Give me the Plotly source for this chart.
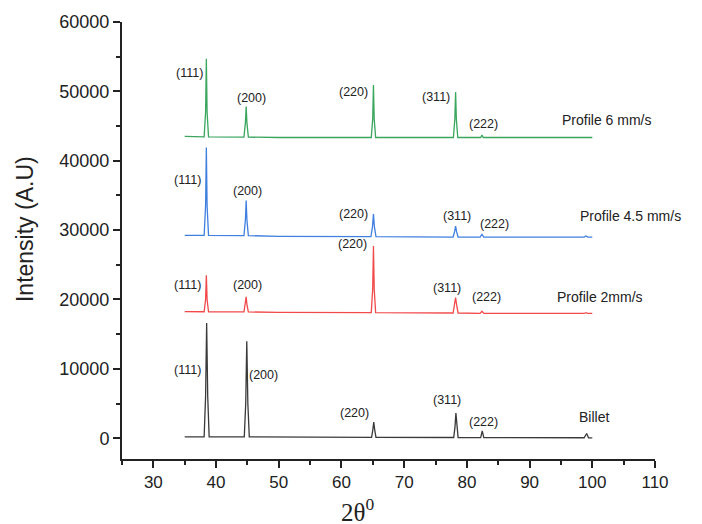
import plotly.graph_objects as go

# ---- data ----
x_green = [35, 38.1, 38.33, 38.45, 38.57, 38.8, 44.45, 44.68, 44.8, 44.92, 45.15, 50, 64.75, 64.98, 65.1, 65.22, 65.45, 77.85, 78.08, 78.2, 78.32, 78.55, 82.2, 82.4, 82.6, 90, 100]
y_green = [43500, 43450, 47000, 54700, 47000, 43450, 43400, 45500, 47800, 45500, 43400, 43350, 43350, 46000, 50900, 46000, 43350, 43350, 46000, 49900, 46000, 43350, 43350, 43700, 43350, 43350, 43350]

x_blue = [35, 38.1, 38.33, 38.45, 38.57, 38.8, 44.45, 44.68, 44.8, 44.92, 45.15, 50, 64.7, 64.95, 65.1, 65.25, 65.5, 77.8, 78.05, 78.2, 78.35, 78.6, 82.1, 82.4, 82.7, 90, 98.7, 99.0, 99.3, 100]
y_blue = [29250, 29230, 33500, 41900, 33500, 29230, 29200, 31500, 34250, 31500, 29200, 29100, 29050, 30500, 32300, 30500, 29050, 29000, 29800, 30570, 29800, 29000, 29000, 29370, 29000, 28990, 28990, 29150, 28990, 28990]

x_red = [35, 38.1, 38.33, 38.45, 38.57, 38.8, 44.45, 44.68, 44.8, 44.92, 45.15, 50, 64.75, 64.98, 65.1, 65.22, 65.45, 77.8, 78.05, 78.2, 78.35, 78.6, 82.1, 82.4, 82.7, 90, 98.7, 99.0, 99.3, 100]
y_red = [18250, 18225, 20000, 23490, 20000, 18225, 18200, 19300, 20380, 19300, 18200, 18150, 18100, 21500, 27700, 21500, 18100, 18050, 19300, 20280, 19300, 18050, 18000, 18300, 18000, 17990, 17980, 18100, 17980, 17980]

x_black = [35, 38.1, 38.33, 38.5, 38.67, 38.9, 44.5, 44.73, 44.9, 45.07, 45.3, 50, 64.8, 65.0, 65.15, 65.3, 65.5, 77.9, 78.1, 78.25, 78.4, 78.6, 82.2, 82.45, 82.7, 90, 98.7, 99.1, 99.4, 100]
y_black = [200, 200, 6000, 16600, 6000, 200, 180, 5000, 13960, 5000, 180, 150, 120, 1200, 2340, 1200, 120, 100, 1600, 3630, 1600, 100, 90, 1050, 90, 60, 60, 670, 60, 50]

series_names = ["Billet", "Profile 2mm/s", "Profile 4.5 mm/s", "Profile 6 mm/s"]
series_colors = ["#3a3a3a", "#f24a4a", "#3f7fe0", "#3aa65e"]

# peak labels: (text, x, y)
labels_green = [("(111)", 35.8, 52700), ("(200)", 45.6, 49080), ("(220)", 61.9, 49940), ("(311)", 75.0, 49120), ("(222)", 82.7, 45250)]
labels_blue = [("(111)", 35.5, 37270), ("(200)", 45.0, 35690), ("(220)", 61.9, 32330), ("(311)", 78.4, 32100), ("(222)", 84.4, 30810)]
labels_red = [("(111)", 35.4, 22100), ("(200)", 45.0, 22100), ("(220)", 61.7, 27980), ("(311)", 76.8, 21620), ("(222)", 83.1, 20380)]
labels_black = [("(111)", 35.4, 9900), ("(200)", 47.5, 9180), ("(220)", 62.0, 3630), ("(311)", 76.8, 5550), ("(222)", 82.7, 2340)]
name_labels = [("Profile 6 mm/s", 102.2, 45870), ("Profile 4.5 mm/s", 106.1, 32100), ("Profile 2mm/s", 101.3, 20380), ("Billet", 100.3, 3060)]

x_ticks = [30, 40, 50, 60, 70, 80, 90, 100, 110]
y_ticks = [0, 10000, 20000, 30000, 40000, 50000, 60000]
y_ticktext = ["0", "10000", "20000", "30000", "40000", "50000", "60000"]

FONT = "Arial, Liberation Sans, sans-serif"

fig = go.Figure()
for xs, ys, nm, col in [(x_black, y_black, series_names[0], series_colors[0]),
                        (x_red, y_red, series_names[1], series_colors[1]),
                        (x_blue, y_blue, series_names[2], series_colors[2]),
                        (x_green, y_green, series_names[3], series_colors[3])]:
    fig.add_trace(go.Scatter(x=xs, y=ys, mode="lines", name=nm,
                             line=dict(color=col, width=1.3), showlegend=False))

annots = []
for group in [labels_green, labels_blue, labels_red, labels_black]:
    for t, x, y in group:
        annots.append(dict(x=x, y=y, text=t, showarrow=False, xref="x", yref="y",
                           xanchor="center", yanchor="middle",
                           font=dict(family=FONT, size=12.5, color="#222")))
for t, x, y in name_labels:
    annots.append(dict(x=x, y=y, text=t, showarrow=False, xref="x", yref="y",
                       xanchor="center", yanchor="middle",
                       font=dict(family=FONT, size=14, color="#222")))

W, H = 702, 524
L, R, T, B = 122, 47, 20, 65
pw, ph = W - L - R, H - T - B

def px2paper(px, py):
    return (px - L) / pw, (H - B - py) / ph

tx, ty = px2paper(357, 510)
annots.append(dict(x=tx, y=ty, xref="paper", yref="paper", text="2θ<sup>0</sup>", showarrow=False,
                   xanchor="center", yanchor="middle",
                   font=dict(family="Liberation Serif, Times New Roman, serif", size=25, color="#222")))
tx, ty = px2paper(25, 228)
annots.append(dict(x=tx, y=ty, xref="paper", yref="paper", text="Intensity (A.U)", showarrow=False,
                   xanchor="center", yanchor="middle",
                   textangle=-90, font=dict(family=FONT, size=23, color="#222")))

fig.update_layout(
    width=W, height=H,
    margin=dict(l=L, r=R, t=T, b=B),
    plot_bgcolor="white", paper_bgcolor="white",
    annotations=annots,
    xaxis=dict(range=[25, 110], tickvals=x_ticks, ticks="outside", ticklen=7, tickwidth=1.5,
               showline=True, linewidth=2, linecolor="#222", tickcolor="#222", showgrid=False, zeroline=False,
               tickfont=dict(family=FONT, size=17, color="#222"),
               minor=dict(ticks="outside", dtick=5, tick0=25, ticklen=4, tickcolor="#222", tickwidth=1.5)),
    yaxis=dict(range=[-3000, 60000], tickvals=y_ticks, ticktext=y_ticktext, ticks="outside", ticklen=7, tickwidth=1.5,
               showline=True, linewidth=2, linecolor="#222", tickcolor="#222", showgrid=False, zeroline=False,
               tickfont=dict(family=FONT, size=18, color="#222"),
               minor=dict(ticks="outside", dtick=5000, tick0=0, ticklen=4, tickcolor="#222", tickwidth=1.5)),
)

fig.write_html("out.html")
